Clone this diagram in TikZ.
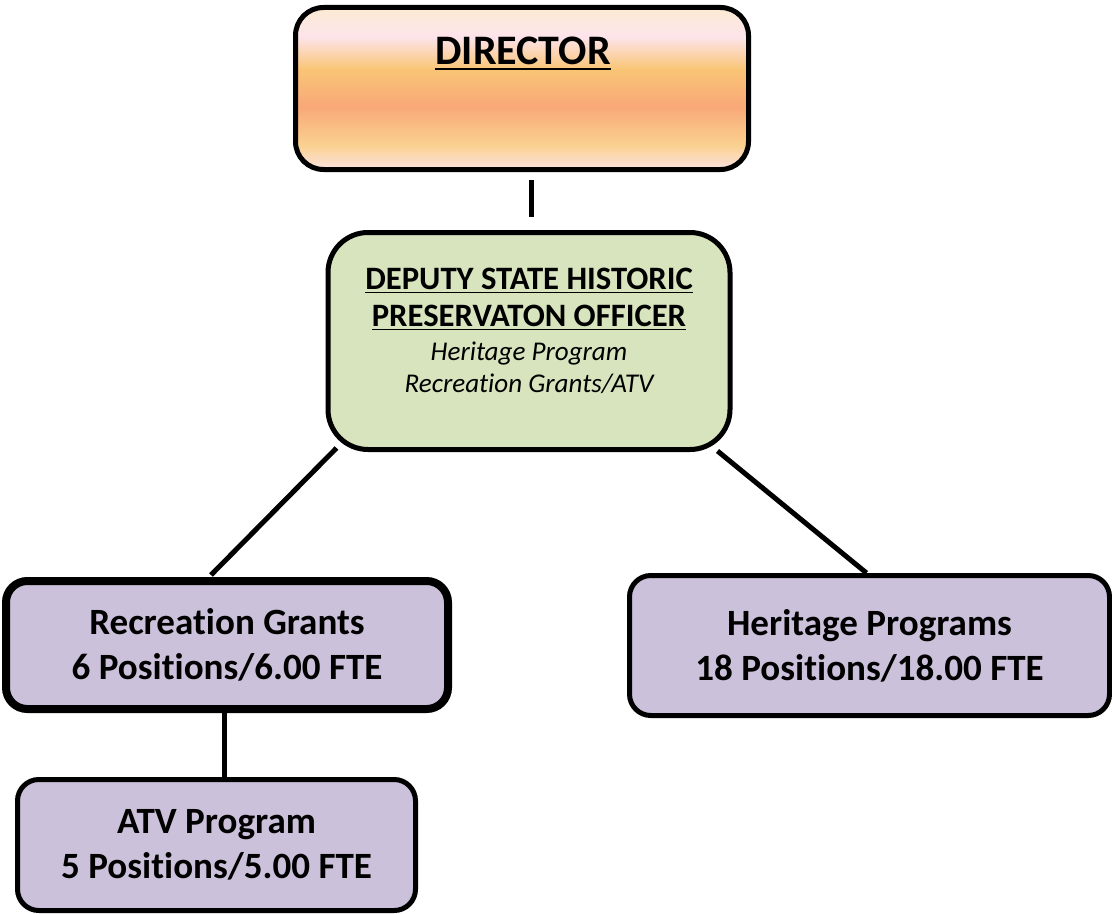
\documentclass[tikz,border=0pt]{standalone}
\usepackage{fontspec}
\setmainfont{Carlito}[Ligatures=NoCommon]
\usetikzlibrary{backgrounds}
\definecolor{dirA}{HTML}{FCEBD2}
\definecolor{dirB}{HTML}{FDE4EC}
\definecolor{dirC}{HTML}{F9C576}
\definecolor{dirD}{HTML}{F9A877}
\definecolor{dirE}{HTML}{FAD190}
\definecolor{dirF}{HTML}{FCE3E1}
\definecolor{depgreen}{HTML}{D7E4BD}
\definecolor{purp}{HTML}{CCC1DA}
\pgfdeclareverticalshading{dirshade}{100bp}{color(0bp)=(dirF); color(25bp)=(dirF); color(32.5bp)=(dirE); color(44.5bp)=(dirD); color(56bp)=(dirC); color(66bp)=(dirB); color(75bp)=(dirA); color(100bp)=(dirA)}
\newcommand\undl[2]{\leavevmode\vtop{\hbox{#2}\kern #1\hrule height #1}}
\begin{document}
\begin{tikzpicture}[x=0.75pt,y=-0.75pt,
  box/.style={draw=black, line width=3.75pt, rounded corners=16pt, fill=purp, align=center,
    font=\fontsize{27.8}{33.75}\selectfont\bfseries, inner sep=0pt},
  link/.style={draw=black, line width=3.75pt}]
\useasboundingbox (0,0) rectangle (1112,913);
% boxes
\node[draw=black, line width=3.75pt, rounded corners=21pt, shading=dirshade,
  minimum width=339.75pt, minimum height=121.5pt, inner sep=0pt] (dir) at (522,88.5) {};
\node[font=\fontsize{31.5}{36}\selectfont\bfseries, anchor=base, inner sep=0pt] (dirt) at (523,65) {\undl{1.8pt}{DIRECTOR}};
\node[draw=black, line width=3.75pt, rounded corners=30pt, fill=depgreen,
  minimum width=301.5pt, minimum height=162.75pt, inner sep=0pt] (dep) at (529,341) {};
\node[anchor=north, align=center, inner sep=0pt, font=\fontsize{24}{24}\selectfont] (dept) at (529,268)
  {{\fontsize{24.5}{24}\selectfont\bfseries\undl{1.3pt}{DEPUTY STATE HISTORIC}}\\[3.75pt]
   {\fontsize{24.5}{24}\selectfont\bfseries\undl{1.3pt}{PRESERVATON OFFICER}}\\[1.5pt]
   {\fontsize{20.3}{24}\selectfont\itshape Heritage Program}\\
   {\fontsize{20.3}{24}\selectfont\itshape Recreation Grants/ATV}};
\node[box, line width=6pt, minimum width=331.5pt, minimum height=96pt] (rec) at (227,645)
  {Recreation Grants\\6 Positions/6.00 FTE};
\node[box, minimum width=360pt, minimum height=105pt] (her) at (869.5,645.5)
  {Heritage Programs\\18 Positions/18.00 FTE};
\node[box, minimum width=298.5pt, minimum height=98.25pt] (atv) at (216.5,845)
  {ATV Program\\5 Positions/5.00 FTE};
% connectors
\begin{scope}[on background layer]
\draw[link, shorten <=6pt, shorten >=9.75pt] ([xshift=6.75pt]dir.south) -- ([xshift=6.75pt]dir.south |- dep.north);
\draw[link] ([shift={(11,-4)}]dep.south west) -- ([shift={(-16,-2)}]rec.north);
\draw[link] ([shift={(-15,-1)}]dep.south east) -- ([shift={(-3,0)}]her.north);
\draw[link] ([xshift=-2.25pt]rec.south) -- ([xshift=-2.25pt]rec.south |- atv.north);
\end{scope}
\end{tikzpicture}
\end{document}
